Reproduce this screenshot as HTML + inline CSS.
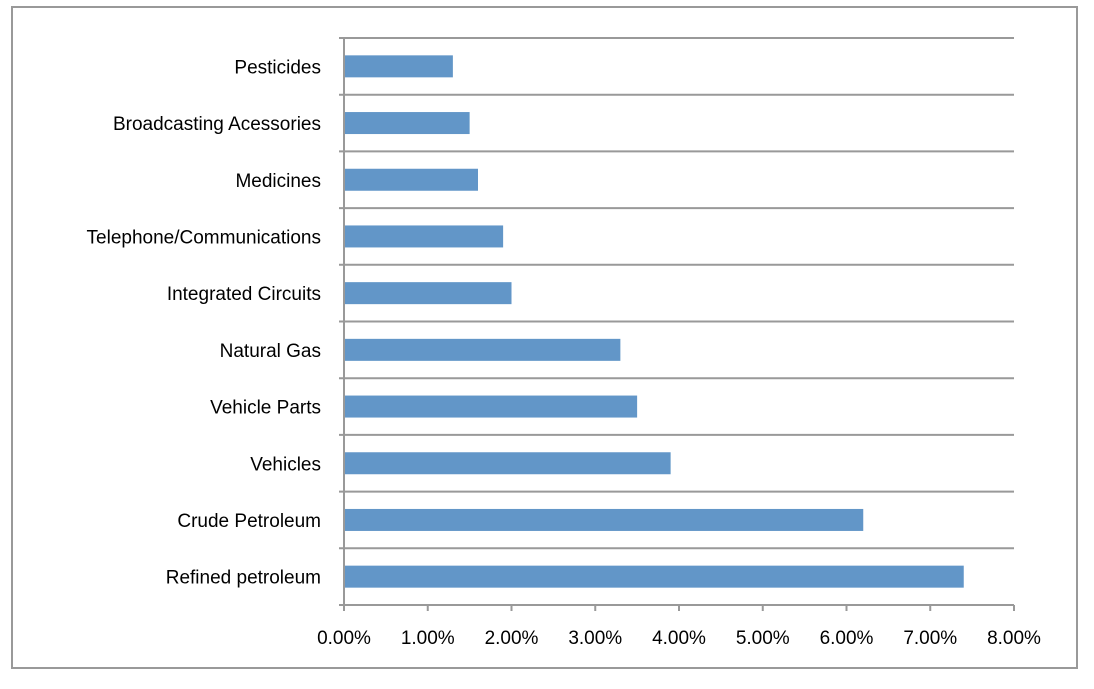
<!DOCTYPE html>
<html><head><meta charset="utf-8"><style>
body{margin:0;background:#fff;width:1094px;height:684px;overflow:hidden}
svg text{font-family:"Liberation Sans",sans-serif;font-size:19px;fill:#000}
</style></head><body>
<svg width="1094" height="684">
<rect x="12" y="7" width="1065" height="661" fill="#fff" stroke="#999" stroke-width="2"/>
<g id="plot"></g>
</svg>
<script>
const categories=["Refined petroleum","Crude Petroleum","Vehicles","Vehicle Parts","Natural Gas","Integrated Circuits","Telephone/Communications","Medicines","Broadcasting Acessories","Pesticides"];
const values=[7.4,6.2,3.9,3.5,3.3,2.0,1.9,1.6,1.5,1.3];
const ticks=[0,1,2,3,4,5,6,7,8];
const tickLabels=["0.00%","1.00%","2.00%","3.00%","4.00%","5.00%","6.00%","7.00%","8.00%"];
const L=344,R=1014,T=38,B=605,xmax=8;
const xs=v=>L+(v/xmax)*(R-L);
const band=(B-T)/categories.length;
const yb=i=>B-(i+1)*band;
const g=document.getElementById('plot');
const NS='http://www.w3.org/2000/svg';
function mk(t,a){const e=document.createElementNS(NS,t);for(const k in a)e.setAttribute(k,a[k]);g.appendChild(e);return e;}
for(let i=0;i<=categories.length;i++){
  const y=T+i*band;
  const l=mk('line',{x1:L-5,x2:R,y1:y,y2:y,stroke:'#999','stroke-width':2});
  
  
}
const ax=mk('line',{x1:L,x2:L,y1:T,y2:B,stroke:'#999','stroke-width':2});


ticks.forEach((t,i)=>{
  const x=xs(t);
  const tk=mk('line',{x1:x,x2:x,y1:B,y2:B+6,stroke:'#999','stroke-width':2});
  
  
  const tx=mk('text',{x:x,y:644,'text-anchor':'middle'});
  tx.textContent=tickLabels[i];
  
  
});
categories.forEach((c,i)=>{
  const y0=yb(i);
  const r=mk('rect',{x:L+1,y:y0+band/2-11,width:xs(values[i])-L-1,height:22,fill:'#6296c8'});
  
  
  const t=mk('text',{x:321,y:y0+band/2+7,'text-anchor':'end'});
  t.textContent=c;
  
  
});
</script>
</body></html>
